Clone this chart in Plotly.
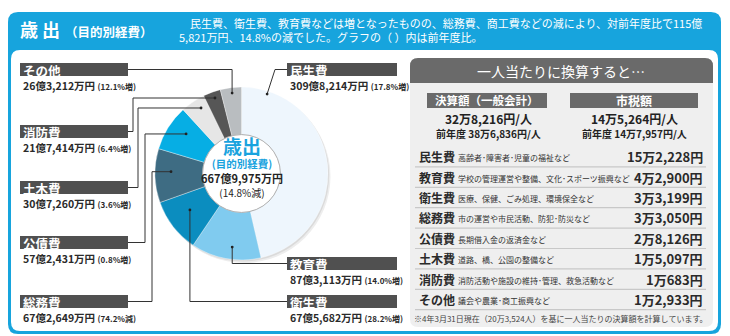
import math
import plotly.graph_objects as go

W, H = 730, 336

# ---- data -------------------------------------------------------------
categories = ["民生費", "教育費", "衛生費", "総務費", "公債費", "土木費", "消防費", "その他"]
amounts_man = [3098214, 873113, 675682, 672649, 572431, 307260, 217414, 263212]  # 万円
changes = ["17.8%増", "14.0%増", "28.2%増", "74.2%減", "0.8%増", "3.6%増", "6.4%増", "12.1%増"]
total_man = 6679975
total_change = "14.8%減"

per_person = ["15万2,228円", "4万2,900円", "3万3,199円", "3万3,050円",
              "2万8,126円", "1万5,097円", "1万683円", "1万2,933円"]
descriptions = ["高齢者･障害者･児童の福祉など",
                "学校の管理運営や整備、文化･スポーツ振興など",
                "医療、保健、ごみ処理、環境保全など",
                "市の運営や市民活動、防犯･防災など",
                "長期借入金の返済金など",
                "道路、橋、公園の整備など",
                "消防活動や施設の維持･管理、救急活動など",
                "議会や農業･商工振興など"]
settled_per_person = "32万8,216円/人"
settled_prev = "前年度 38万6,836円/人"
tax_per_person = "14万5,264円/人"
tax_prev = "前年度 14万7,957円/人"

# ---- styling ----------------------------------------------------------
FONT = "Noto Sans CJK JP"
BLUE = "#17a4dd"
slice_colors = ["#eef6fd", "#80cbef", "#0b8dbf", "#3e6c83", "#06aee4",
                "#e6e6e6", "#565656", "#b9bdc0"]

# pie geometry (pixels)
CX, CY, R = 241.5, 173.5, 86.5
HOLE = 0.45

# label box placement: side, box top (px), elbow x for the leader
label_layout = {
    "民生費": ("R", 63, "diag"),
    "教育費": ("R", 257, None),
    "衛生費": ("R", 295, None),
    "総務費": ("L", 295, 152),
    "公債費": ("L", 236, 145),
    "土木費": ("L", 181, 138),
    "消防費": ("L", 125, 133),
    "その他": ("L", 63, None),
}
# where on each slice the leader ends: (fraction along slice, fraction of radius)
anchor_pos = {
    "民生費": (0.107, 0.965), "教育費": (0.43, 0.857), "衛生費": (0.57, 0.73),
    "総務費": (0.58, 0.815), "公債費": (0.61, 0.787), "土木費": (0.65, 0.89),
    "消防費": (0.56, 0.925), "その他": (0.53, 0.936),
}


def px(x):
    return x / W


def py(y):
    return 1 - y / H


def fmt_oku(v):
    oku, man = divmod(v, 10000)
    return f"{oku}億{man:,}万円"


def rrect(x0, y0, x1, y1, r, corners=(1, 1, 1, 1)):
    tl, tr, br, bl = [r * c for c in corners]
    pts = [
        f"M{px(x0 + tl)},{py(y0)}",
        f"L{px(x1 - tr)},{py(y0)}",
        f"Q{px(x1)},{py(y0)} {px(x1)},{py(y0 + tr)}",
        f"L{px(x1)},{py(y1 - br)}",
        f"Q{px(x1)},{py(y1)} {px(x1 - br)},{py(y1)}",
        f"L{px(x0 + bl)},{py(y1)}",
        f"Q{px(x0)},{py(y1)} {px(x0)},{py(y1 - bl)}",
        f"L{px(x0)},{py(y0 + tl)}",
        f"Q{px(x0)},{py(y0)} {px(x0 + tl)},{py(y0)}",
        "Z",
    ]
    return " ".join(pts)


def circle(cx, cy, r, **kw):
    return dict(type="circle", xref="paper", yref="paper",
                x0=px(cx - r), x1=px(cx + r), y0=py(cy + r), y1=py(cy - r), **kw)


def span(s, size, color=None, bold=False):
    style = f"font-size:{size}px" + (f";color:{color}" if color else "")
    inner = f"<span style='{style}'>{s}</span>"
    return f"<b>{inner}</b>" if bold else inner


shapes = []
ann = []


def text(x, y, s, size, color="#222", anchor="left", bold=False, yanchor="middle", align=None):
    ann.append(dict(x=px(x), y=py(y), xref="paper", yref="paper", showarrow=False,
                    text=f"<b>{s}</b>" if bold else s, xanchor=anchor, yanchor=yanchor,
                    align=align or anchor, borderpad=0,
                    font=dict(family=FONT, size=size, color=color)))


def box(x0, y0, x1, y1, color):
    shapes.append(dict(type="rect", xref="paper", yref="paper", layer="below",
                       x0=px(x0), x1=px(x1), y0=py(y1), y1=py(y0),
                       fillcolor=color, line=dict(width=0)))


# ---- frame ------------------------------------------------------------
shapes.append(dict(type="path", xref="paper", yref="paper", layer="below",
                   path=rrect(8, 12, 721, 334, 10), fillcolor=BLUE, line=dict(width=0)))
shapes.append(dict(type="path", xref="paper", yref="paper", layer="below",
                   path=rrect(11, 50, 718, 331, 9), fillcolor="white", line=dict(width=0)))

text(19, 29, "歳 出", 18, "white", bold=True)
text(64, 31, "（目的別経費）", 12.5, "white", bold=True)
text(178, 30,
     "　民生費、衛生費、教育費などは増となったものの、総務費、商工費などの減により、対前年度比で115億"
     "<br>5,821万円、14.8%の減でした。グラフの（ ）内は前年度比。",
     11, "white")

# ---- pie --------------------------------------------------------------
# soft drop shadow under the ring
shapes.append(circle(CX + 2.5, CY + 3, R, layer="below", fillcolor="rgba(0,0,0,0.07)",
                     line=dict(width=0)))
shapes.append(circle(CX + 1.2, CY + 1.5, R, layer="below", fillcolor="rgba(0,0,0,0.08)",
                     line=dict(width=0)))

pie = go.Pie(labels=categories, values=amounts_man, sort=False, direction="clockwise",
             rotation=0, hole=HOLE, textinfo="none", hoverinfo="skip",
             marker=dict(colors=slice_colors, line=dict(color="rgba(255,255,255,0.6)", width=0.6)),
             domain=dict(x=[px(CX - R), px(CX + R)], y=[py(CY + R), py(CY - R)]),
             showlegend=False)

# hole face
shapes.append(circle(CX, CY, R * HOLE, layer="above", fillcolor="white",
                     line=dict(color="#9a9a9a", width=0.8)))

center_txt = "<br>".join([
    span("歳出", 19, "#19a3de", bold=True),
    span("(目的別経費)", 10.5, "#19a3de", bold=True),
    span(fmt_oku(total_man), 11, "#222", bold=True),
    span(f"({total_change})", 10, "#222"),
])
text(CX, 165.5, center_txt, 11, "#222", anchor="center")

# ---- labels and leaders ----------------------------------------------
total = sum(amounts_man)
start = 0.0
for cat, v, ch in zip(categories, amounts_man, changes):
    seg = v / total * 360
    t, rf = anchor_pos[cat]
    ang = math.radians(start + seg * t)
    dx = CX + R * rf * math.sin(ang)
    dy = CY - R * rf * math.cos(ang)
    start += seg

    side, top, elbow = label_layout[cat]
    mid = top + 6.5
    if side == "L":
        bx0, bx1 = 20, 128
        sx = bx1
    else:
        bx0, bx1 = 287, 397
        sx = bx0
    box(bx0, top, bx1, top + 13, "#505050")
    lbl = (span(cat, 12.5, "white", bold=True) + "<br>"
           + span(fmt_oku(v), 10.5, "#2a2a2a", bold=True) + " "
           + span(f"({ch})", 8, "#2a2a2a", bold=True))
    text(bx0 + 1.5, top + 14, lbl, 11, "#2a2a2a")

    if elbow == "diag":
        pts = [(sx, mid), (275, mid), (dx, dy)]
    elif elbow is None:
        pts = [(sx, mid), (dx, mid), (dx, dy)]
    else:
        pts = [(sx, mid), (elbow, mid), (elbow, dy), (dx, dy)]
    path = "M" + " L".join(f"{px(a)},{py(b)}" for a, b in pts)
    shapes.append(dict(type="path", xref="paper", yref="paper", layer="above",
                       path=path, line=dict(color="#333", width=1)))
    shapes.append(circle(dx, dy, 1.4, layer="above", fillcolor="#222", line=dict(width=0)))

# ---- per-person panel -------------------------------------------------
shapes.append(dict(type="path", xref="paper", yref="paper", layer="below",
                   path=rrect(410, 58, 713, 327, 8), fillcolor="#efefef", line=dict(width=0)))
shapes.append(dict(type="path", xref="paper", yref="paper", layer="below",
                   path=rrect(410, 58, 713, 83, 8, corners=(1, 1, 0, 0)),
                   fillcolor="#6a6a6a", line=dict(width=0)))
text(561, 70.5, "一人当たりに換算すると…", 14, "white", anchor="center")

box(427, 93, 547, 108, "#6a6a6a")
box(570, 93, 698, 108, "#6a6a6a")
text(487, 100.5, "決算額（一般会計）", 11.5, "white", anchor="center", bold=True)
text(634, 100.5, "市税額", 12, "white", anchor="center", bold=True)
for cxp, main, prev in [(488, settled_per_person, settled_prev), (634, tax_per_person, tax_prev)]:
    txt = span(main, 12, "#222", bold=True) + "<br>" + span(prev, 10, "#222", bold=True)
    text(cxp, 125.5, txt, 10.5, "#222", anchor="center")

row_top, row_h = 146.5, 20.4
for i, (cat, desc, val) in enumerate(zip(categories, descriptions, per_person)):
    yc = row_top + row_h * (i + 0.5)
    text(418, yc, cat, 12, "#2a2a2a", bold=True)
    text(457, yc + 1, desc, 8, "#333")
    text(704, yc, val, 13, "#2a2a2a", anchor="right", bold=True)
    yl = row_top + row_h * (i + 1)
    shapes.append(dict(type="line", xref="paper", yref="paper", layer="below",
                       x0=px(415), x1=px(706), y0=py(yl), y1=py(yl),
                       line=dict(color="#c8c8c8", width=1.2)))
text(413, 318, "※4年3月31日現在（20万3,524人）を基に一人当たりの決算額を計算しています。", 8, "#444")

fig = go.Figure(pie)
fig.update_layout(width=W, height=H, margin=dict(l=0, r=0, t=0, b=0),
                  paper_bgcolor="white", plot_bgcolor="white",
                  shapes=shapes, annotations=ann, showlegend=False)
fig.write_html("out.html")
